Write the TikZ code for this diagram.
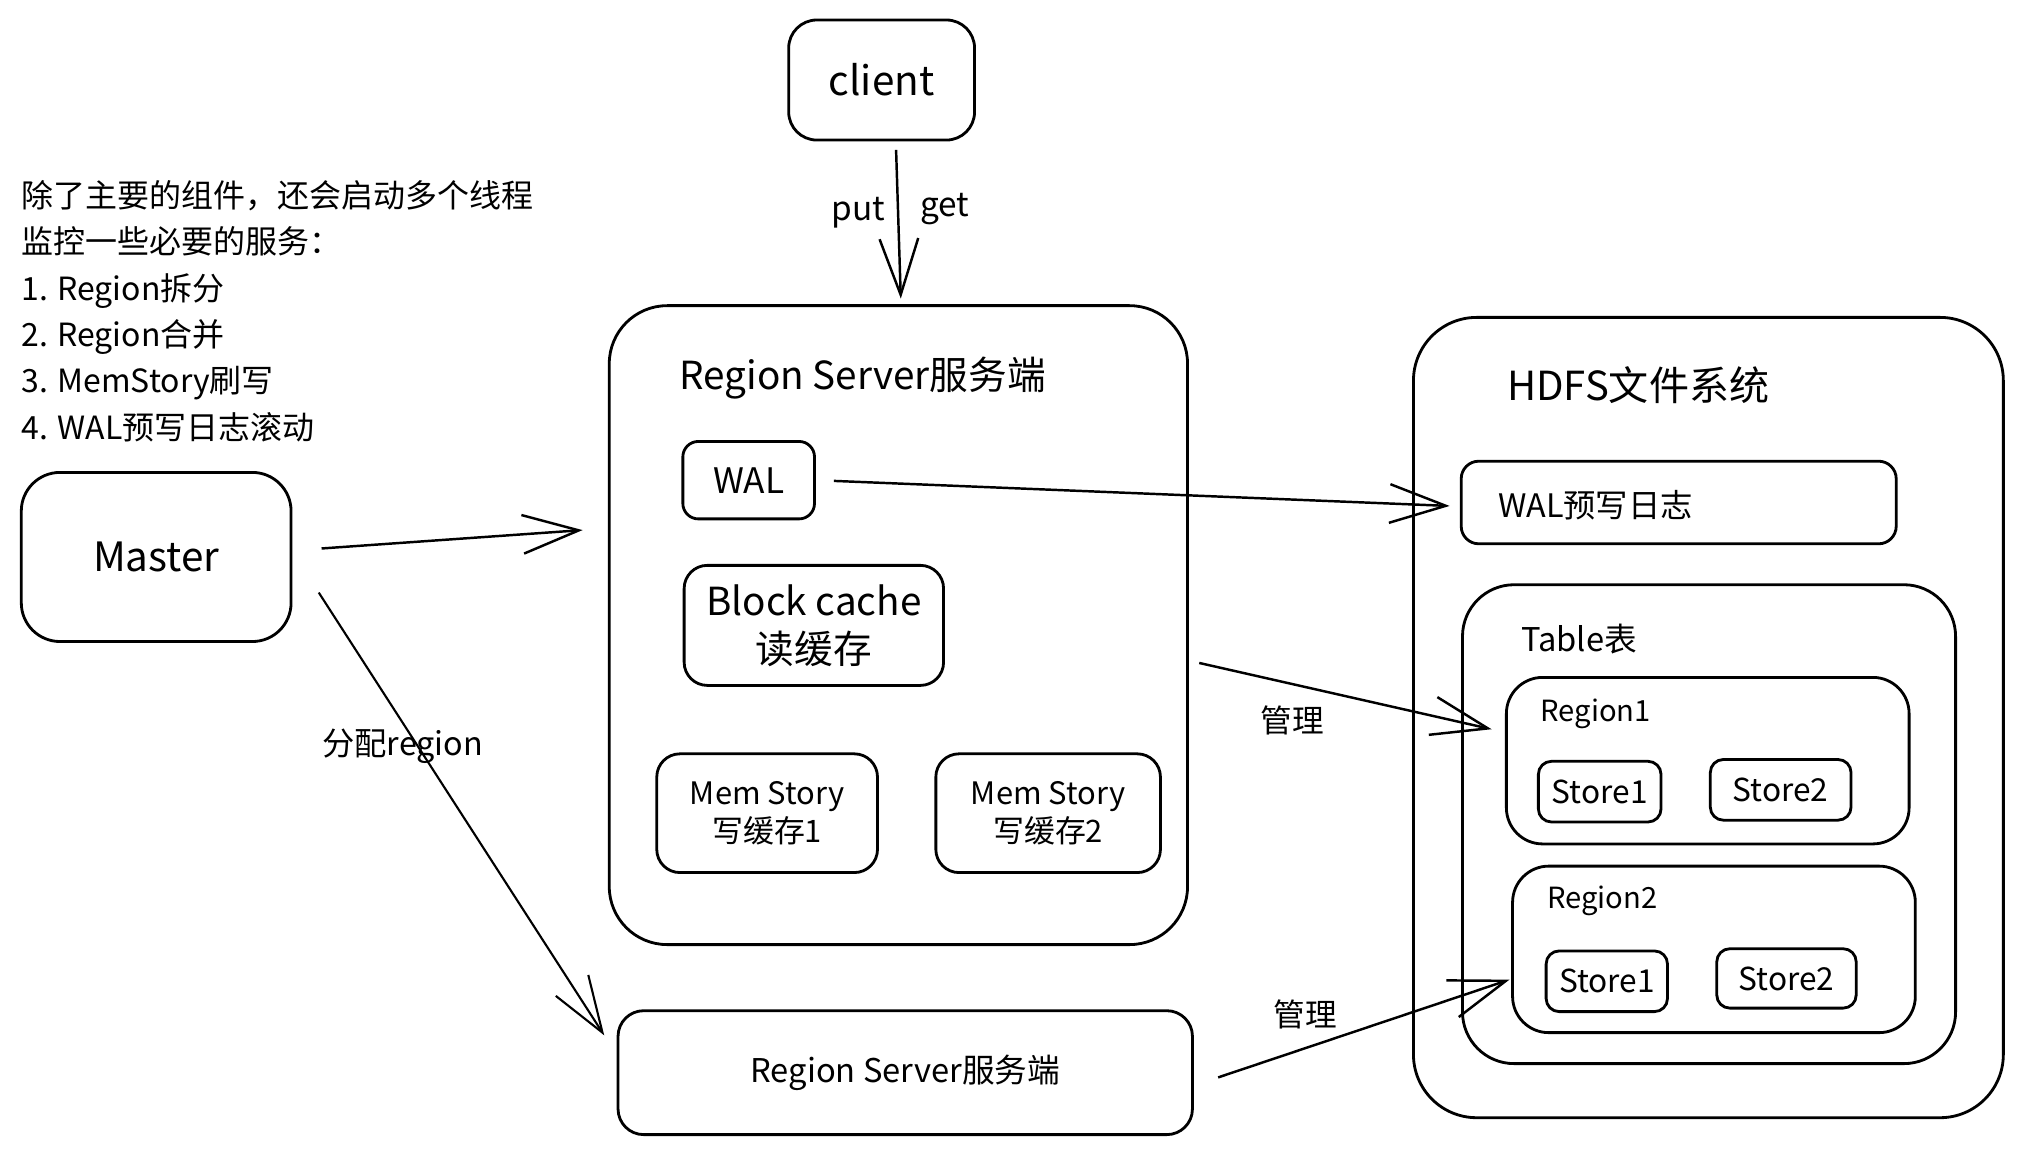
\documentclass[tikz,border=0pt]{standalone}
\usepackage{fontspec}
\setmainfont{Noto Sans CJK SC}
\usetikzlibrary{arrows.meta,calc}
\def\px{0.012908cm}
\tikzset{
  box/.style={draw,line width=0.8pt,inner sep=0pt},
  title/.style={anchor=west,inner sep=0pt},
  arr/.style={-{Straight Barb[length=16pt,width=11pt]},line width=0.7pt},
}
\newcommand{\fs}[2]{\fontsize{#1}{#2}\selectfont}

\begin{document}
\begin{tikzpicture}[x=\px,y=-\px]
\useasboundingbox (0,0) rectangle (1568,894);
%notes
\node[title,align=left,font=\fs{9.1}{13.2}] (note) at (16,241)
{除了主要的组件，还会启动多个线程\\监控一些必要的服务：\\1. Region拆分\\2. Region合并\\3. MemStory刷写\\4. WAL预写日志滚动};
%client and master
\node[box,rounded corners=8pt,minimum width=144*\px,minimum height=93*\px,font=\fs{11.5}{14}] (client) at (683,62) {client};
\node[box,rounded corners=11pt,minimum width=209*\px,minimum height=131*\px,font=\fs{11.5}{14}] (master) at (121,431.5) {Master};
%region server
\node[box,rounded corners=16.5pt,minimum width=448*\px,minimum height=495*\px] (rs) at (696,484.3) {};
\node[title,font=\fs{11}{13}] (rstitle) at (526,293) {Region Server服务端};
\node[box,rounded corners=4.4pt,minimum width=102*\px,minimum height=60*\px,font=\fs{10}{12}] (wal) at (580,372) {WAL};
\node[box,rounded corners=6.6pt,minimum width=201*\px,minimum height=93*\px,align=center,font=\fs{11}{13.6}] (bcache) at (630.5,484.5) {Block cache\\读缓存};
\node[box,rounded corners=6.6pt,minimum width=171*\px,minimum height=92*\px,align=center,font=\fs{8.8}{10.8}] (mem1) at (594.3,630) {Mem Story\\写缓存1};
\node[box,rounded corners=6.6pt,minimum width=174*\px,minimum height=92*\px,align=center,font=\fs{8.8}{10.8}] (mem2) at (812,630) {Mem Story\\写缓存2};
\node[box,rounded corners=7.3pt,minimum width=445*\px,minimum height=96*\px,font=\fs{9.3}{11}] (rs2) at (701.3,831) {Region Server服务端};
%hdfs
\node[box,rounded corners=18pt,minimum width=457*\px,minimum height=620*\px] (hdfs) at (1323.5,555.9) {};
\node[title,font=\fs{11.4}{13.6}] (hdfstitle) at (1167,298) {HDFS文件系统};
\node[box,rounded corners=5pt,minimum width=337*\px,minimum height=64*\px] (walog) at (1300.5,389.3) {};
\node[title,font=\fs{9.2}{11}] (walogtext) at (1160,391) {WAL预写日志};
\node[box,rounded corners=14.7pt,minimum width=382*\px,minimum height=371*\px] (table) at (1324,638.5) {};
\node[title,font=\fs{9.3}{11}] (tabletitle) at (1178,495) {Table表};
\node[box,rounded corners=10.3pt,minimum width=312*\px,minimum height=129*\px] (region1) at (1323,589.3) {};
\node[title,font=\fs{8.3}{10}] (r1title) at (1193,553) {Region1};
\node[box,rounded corners=3.7pt,minimum width=95*\px,minimum height=47*\px,font=\fs{9}{11}] (r1s1) at (1239.3,613.3) {Store1};
\node[box,rounded corners=3.7pt,minimum width=109*\px,minimum height=47*\px,font=\fs{9}{11}] (r1s2) at (1379.5,611.9) {Store2};
\node[box,rounded corners=10.3pt,minimum width=312*\px,minimum height=129*\px] (region2) at (1327.8,735.5) {};
\node[title,font=\fs{8.3}{10}] (r2title) at (1198,698) {Region2};
\node[box,rounded corners=3.7pt,minimum width=94*\px,minimum height=47*\px,font=\fs{9}{11}] (r2s1) at (1244.8,760.2) {Store1};
\node[box,rounded corners=3.7pt,minimum width=108*\px,minimum height=46*\px,font=\fs{9}{11}] (r2s2) at (1384,758) {Store2};
%arrows
\draw[arr,shorten <=2.4pt,shorten >=1.6pt] ($(client.south)+(11,0)$) -- ($(rs.north)+(2,0)$);
\node[font=\fs{9.5}{11}] (put) at (665,165) {put};
\node[font=\fs{9.5}{11}] (get) at (732,162) {get};
\draw[arr,shorten <=8.3pt,shorten >=7.2pt] ($(master.east)+(0,-5)$) -- ($(rs.west)+(0,-75)$);
\draw[arr,line width=0.6pt,shorten <=13.8pt,shorten >=6.5pt] ($(master.east)+(0,-4)$) -- ($(rs2.west)+(0,-14)$);
\node[font=\fs{9.2}{11}] (assign) at (312,578) {分配region};
\draw[arr,shorten <=5.1pt,shorten >=2.9pt] (wal.east) -- ($(walog.west)+(0,3)$);
\draw[arr,shorten <=3pt,shorten >=3.9pt] ($(rs.east)+(0,27.5)$) -- ($(region1.west)+(0,-22)$);
\node[font=\fs{9}{11}] (manage1) at (1001,558) {管理};
\draw[arr,shorten <=7.3pt,shorten >=0.5pt] ($(rs2.east)+(0,10)$) -- ($(region2.west)+(0,23)$);
\node[font=\fs{9}{11}] (manage2) at (1011,786) {管理};
\end{tikzpicture}
\end{document}
